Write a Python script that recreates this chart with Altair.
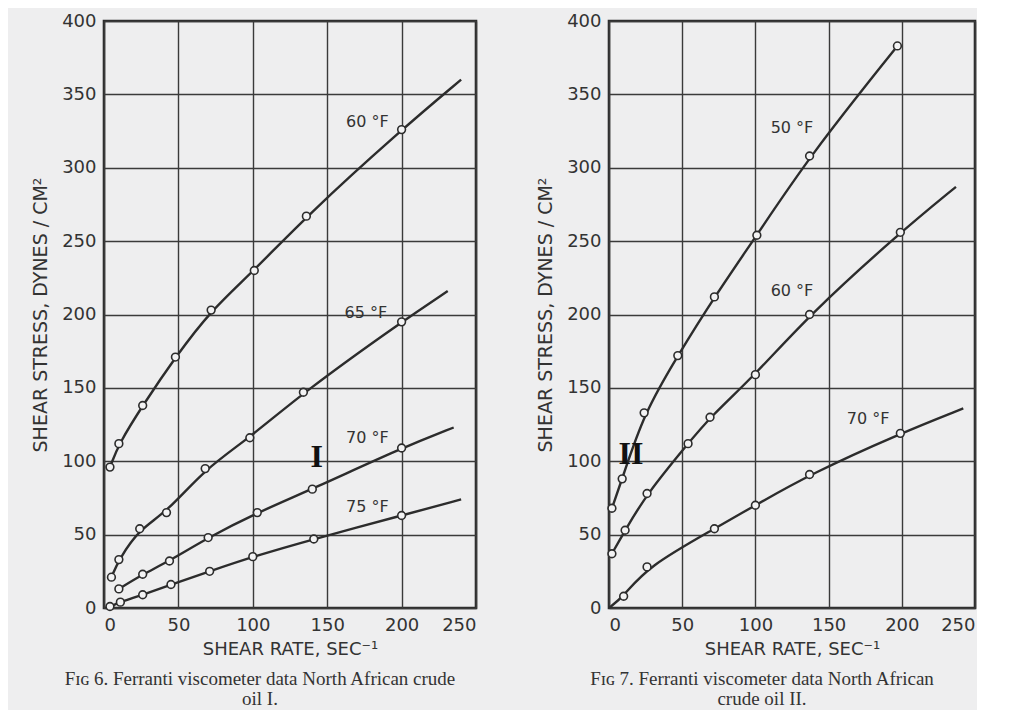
import altair as alt
import pandas as pd

# ---------------- Fig 6 : North African crude oil I ----------------
f6_60_x = [4, 10, 26, 48, 72, 101, 136, 200]
f6_60_y = [96, 112, 138, 171, 203, 230, 267, 326]
f6_65_x = [5, 10, 24, 42, 68, 98, 134, 200]
f6_65_y = [21, 33, 54, 65, 95, 116, 147, 195]
f6_70_x = [10, 26, 44, 70, 103, 140, 200]
f6_70_y = [13, 23, 32, 48, 65, 81, 109]
f6_75_x = [4, 11, 26, 45, 71, 100, 141, 200]
f6_75_y = [1, 4, 9, 16, 25, 35, 47, 63]
# where each drawn curve ends
f6_end_x = [240, 231, 235, 240]
f6_end_y = [360, 216, 123, 74]
f6_names = ["60 °F", "65 °F", "70 °F", "75 °F"]
f6_label_x = [177, 176, 177, 177]
f6_label_y = [331, 201, 116, 69]

# ---------------- Fig 7 : North African crude oil II ----------------
f7_50_x = [2, 9, 24, 47, 72, 101, 137, 197]
f7_50_y = [68, 88, 133, 172, 212, 254, 308, 383]
f7_60_x = [2, 11, 26, 54, 69, 100, 137, 199]
f7_60_y = [37, 53, 78, 112, 130, 159, 200, 256]
f7_70_x = [10, 26, 72, 100, 137, 199]
f7_70_y = [8, 28, 54, 70, 91, 119]
f7_end_x = [197, 237, 242]
f7_end_y = [383, 287, 136]
f7_start_70 = (0, 0)
f7_names = ["50 °F", "60 °F", "70 °F"]
f7_label_x = [125, 125, 177]
f7_label_y = [327, 216, 129]

x_ticks = [0, 50, 100, 150, 200, 250]
y_ticks = [0, 50, 100, 150, 200, 250, 300, 350, 400]

INK = "#2c2c2c"
PAPER = "#eeeeef"


def build(series, ends, starts):
    pts, crv = [], []
    for (name, xs, ys), ex, ey in zip(series, *ends):
        for a, b in zip(xs, ys):
            pts.append({"series": name, "x": a, "y": b})
        if name in starts:
            crv.append({"series": name, "x": starts[name][0], "y": starts[name][1]})
        for a, b in zip(xs, ys):
            crv.append({"series": name, "x": a, "y": b})
        if ex > xs[-1]:
            crv.append({"series": name, "x": ex, "y": ey})
    return pd.DataFrame(pts), pd.DataFrame(crv)


p6, c6 = build(
    [("60", f6_60_x, f6_60_y), ("65", f6_65_x, f6_65_y),
     ("70", f6_70_x, f6_70_y), ("75", f6_75_x, f6_75_y)],
    (f6_end_x, f6_end_y), {})
p7, c7 = build(
    [("50", f7_50_x, f7_50_y), ("60", f7_60_x, f7_60_y), ("70", f7_70_x, f7_70_y)],
    (f7_end_x, f7_end_y), {"70": f7_start_70})

l6 = pd.DataFrame({"t": f6_names, "x": f6_label_x, "y": f6_label_y})
l7 = pd.DataFrame({"t": f7_names, "x": f7_label_x, "y": f7_label_y})
r6 = pd.DataFrame({"t": ["I"], "x": [143], "y": [103]})
r7 = pd.DataFrame({"t": ["II"], "x": [15], "y": [105]})

X = alt.X("x:Q", scale=alt.Scale(domain=[0, 250], nice=False),
          axis=alt.Axis(values=x_ticks, title="SHEAR   RATE,   SEC⁻¹"))
Y = alt.Y("y:Q", scale=alt.Scale(domain=[0, 400], nice=False),
          axis=alt.Axis(values=y_ticks, title="SHEAR   STRESS,   DYNES / CM²"))


def panel(pts, crv, labs, roman, caption, w):
    line = alt.Chart(crv).mark_line(color=INK, strokeWidth=2.4,
                                    interpolate="basis").encode(x=X, y=Y, detail="series:N")
    dots = alt.Chart(pts).mark_point(shape="circle", filled=True, fill="#f3f3f4",
                                     stroke=INK, strokeWidth=1.6, size=60,
                                     opacity=1).encode(x=X, y=Y)
    text = alt.Chart(labs).mark_text(font="DejaVu Sans", fontSize=16, color="#333333",
                                     align="center", baseline="middle").encode(
        x=X, y=Y, text="t:N")
    rom = alt.Chart(roman).mark_text(font="Liberation Serif", fontSize=32, fontWeight="bold",
                                     color="#111111", align="center", baseline="middle").encode(
        x=X, y=Y, text="t:N")
    return alt.layer(line, dots, text, rom).properties(
        width=w, height=587,
        title=alt.TitleParams(text=caption, orient="bottom", anchor="middle",
                              font="Liberation Serif", fontSize=19, fontWeight="normal",
                              color="#333333", lineHeight=20, offset=12, dx=-30))


left = panel(p6, c6, l6, r6,
             ["Fɪɢ 6. Ferranti viscometer data North African crude", "oil I."], 372)
right = panel(p7, c7, l7, r7,
              ["Fɪɢ 7. Ferranti viscometer data North African", "crude oil II."], 366)

chart = alt.hconcat(left, right, spacing=133, bounds="flush").properties(
    padding={"left": 22, "top": 2, "right": 0, "bottom": 0}
).configure(background=PAPER).configure_view(
    stroke=INK, strokeWidth=2.6, fill=PAPER
).configure_axis(
    grid=True, gridColor="#3a3a3a", gridWidth=1.4, gridOpacity=1,
    domain=False, ticks=False,
    labelFont="DejaVu Sans", labelFontSize=18, labelColor="#333333", labelPadding=8,
    titleFont="DejaVu Sans", titleFontSize=18, titleFontWeight="normal", titleColor="#333333"
).configure_axisX(titlePadding=6).configure_axisY(titlePadding=11, titleFontSize=19)

chart.save("out.html", embed_options={"renderer": "svg", "actions": False})
